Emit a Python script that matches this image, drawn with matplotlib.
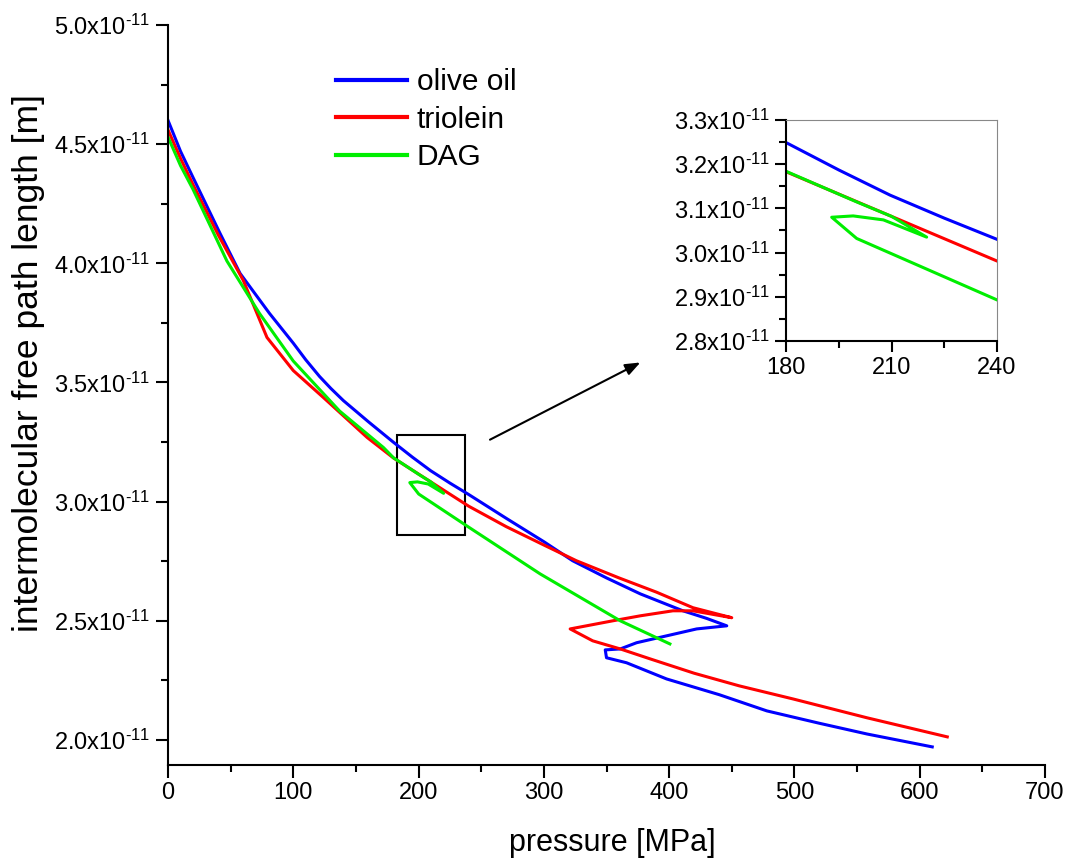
import matplotlib
matplotlib.use("Agg")
import matplotlib.pyplot as plt
from matplotlib.patches import Rectangle
from matplotlib.ticker import MultipleLocator, FuncFormatter

plt.rcParams['font.family'] = ['Liberation Sans', 'DejaVu Sans']
plt.rcParams['mathtext.fontset'] = 'custom'
plt.rcParams['mathtext.rm'] = 'Liberation Sans'
plt.rcParams['mathtext.it'] = 'Liberation Sans'
plt.rcParams['mathtext.bf'] = 'Liberation Sans'

# values in units of 1e-11 m
olive_p = [0, 10, 20, 41.5, 57.5, 81, 100, 110, 121, 130, 140, 160, 180, 195, 209.6, 225, 240,
           270, 300, 323, 350, 377, 411, 430, 446, 422, 374, 361, 349, 350, 366, 398, 440, 478,
           520, 558, 610]
olive_l = [4.60, 4.47, 4.36, 4.126, 3.958, 3.79, 3.665, 3.595, 3.525, 3.475, 3.424, 3.335, 3.249,
           3.187, 3.130, 3.078, 3.030, 2.930, 2.832, 2.752, 2.68, 2.613, 2.542, 2.51, 2.479,
           2.466, 2.408, 2.382, 2.378, 2.345, 2.324, 2.256, 2.19, 2.122, 2.07, 2.025, 1.971]

triolein_p = [0, 10, 20, 40, 60, 79, 100, 124, 159, 180, 210, 240, 270, 300, 326, 360, 390,
              419, 450, 419, 403, 377, 355, 321, 339, 361, 385, 420, 456, 499, 558, 622]
triolein_l = [4.56, 4.44, 4.33, 4.12, 3.929, 3.689, 3.55, 3.437, 3.269, 3.183, 3.082, 2.981,
              2.895, 2.818, 2.752, 2.68, 2.62, 2.555, 2.513, 2.542, 2.542, 2.521, 2.50, 2.466,
              2.416, 2.382, 2.34, 2.28, 2.227, 2.172, 2.093, 2.013]

dag_p = [0, 10, 20, 47, 73, 100, 137, 172, 180, 200, 210, 220, 207.7, 199.1, 193, 200.1, 240,
         297, 361, 400.6]
dag_l = [4.53, 4.41, 4.31, 4.01, 3.79, 3.59, 3.38, 3.227, 3.184, 3.115, 3.082, 3.035, 3.074,
         3.083, 3.080, 3.032, 2.893, 2.697, 2.50, 2.403]

series = [("olive oil", olive_p, olive_l, "#0000ff"),
          ("triolein", triolein_p, triolein_l, "#ff0000"),
          ("DAG", dag_p, dag_l, "#00ee00")]

zoom_box = (183, 2.86, 237, 3.28)   # x0, y0, x1, y1
arrow_from = (257, 3.26)
arrow_to = (377, 3.584)

W, H = 1077, 860
fig = plt.figure(figsize=(W / 100, H / 100), dpi=100)

def sci(v, pos):
    return f"{v:.1f}x10$^{{\\text{{-11}}}}$"

TICK_FS = 17

ax = fig.add_axes([168 / W, 1 - 765 / H, (1045 - 168) / W, (765 - 25) / H])
for name, p, l, c in series:
    ax.plot(p, l, color=c, lw=2.2, label=name, solid_joinstyle='round')
ax.set_xlim(0, 700)
ax.set_ylim(1.895, 5.0)
ax.xaxis.set_major_locator(MultipleLocator(100))
ax.xaxis.set_minor_locator(MultipleLocator(50))
ax.yaxis.set_major_locator(MultipleLocator(0.5))
ax.yaxis.set_minor_locator(MultipleLocator(0.25))
ax.yaxis.set_major_formatter(FuncFormatter(sci))
ax.spines['top'].set_visible(False)
ax.spines['right'].set_visible(False)
for s in ('left', 'bottom'):
    ax.spines[s].set_linewidth(1.5)
ax.tick_params(which='major', length=9, width=1.5, labelsize=TICK_FS, direction='out')
ax.tick_params(which='minor', length=5, width=1.5, direction='out')
ax.set_xlabel("pressure [MPa]", fontsize=22)
ax.set_ylabel("intermolecular free path length [m]", fontsize=25.5)
ax.xaxis.set_label_coords((612 - 168) / 877, -(843 - 765) / 740)
ax.yaxis.set_label_coords(-(168 - 29) / 877, (765 - 363) / 740)
ax.xaxis.label.set_va('center')
ax.yaxis.label.set_va('center')

ax.add_patch(Rectangle((zoom_box[0], zoom_box[1]), zoom_box[2] - zoom_box[0],
                       zoom_box[3] - zoom_box[1], fill=False, ec='black', lw=1.5))
ax.annotate("", xy=arrow_to, xytext=arrow_from,
            arrowprops=dict(arrowstyle='-|>,head_length=0.9,head_width=0.35',
                            color='black', lw=1.5, shrinkA=0, shrinkB=0))

leg = ax.legend(loc='upper left', bbox_to_anchor=(336 / W, 1 - 68 / H),
                bbox_transform=fig.transFigure, frameon=False, fontsize=21.5,
                handlelength=2.37, handletextpad=0.33, labelspacing=0.32,
                borderpad=0, borderaxespad=0)
for h in leg.get_lines():
    h.set_linewidth(3)

# inset
axi = fig.add_axes([786 / W, 1 - 341 / H, (997 - 786) / W, (341 - 120) / H])
for name, p, l, c in series:
    axi.plot(p, l, color=c, lw=2.2, solid_joinstyle='round')
axi.set_xlim(180, 240)
axi.set_ylim(2.8, 3.3)
axi.xaxis.set_major_locator(MultipleLocator(30))
axi.xaxis.set_minor_locator(MultipleLocator(15))
axi.yaxis.set_major_locator(MultipleLocator(0.1))
axi.yaxis.set_minor_locator(MultipleLocator(0.05))
axi.yaxis.set_major_formatter(FuncFormatter(sci))
for s in ('left', 'bottom'):
    axi.spines[s].set_linewidth(1.5)
for s in ('top', 'right'):
    axi.spines[s].set_linewidth(0.8)
    axi.spines[s].set_color('#888888')
axi.tick_params(which='major', length=8, width=1.5, labelsize=TICK_FS, direction='out')
axi.tick_params(which='minor', length=5, width=1.5, direction='out')

fig.savefig("out.png", dpi=100)
